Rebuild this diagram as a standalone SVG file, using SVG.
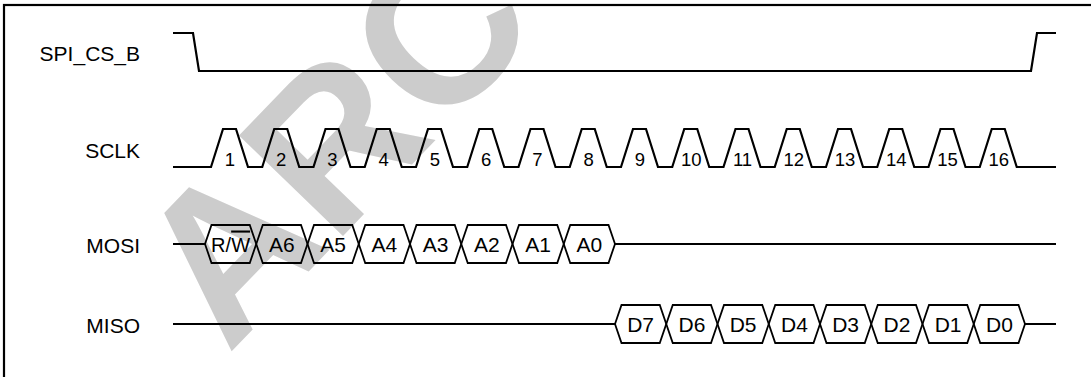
<svg xmlns="http://www.w3.org/2000/svg" width="1091" height="377" viewBox="0 0 1091 377">
<style>
.lbl{font-family:"Liberation Sans",Arial,sans-serif;font-size:21px;fill:#000;text-anchor:end}
.num{font-family:"Liberation Sans",Arial,sans-serif;font-size:18.5px;fill:#000;text-anchor:middle}
.hl{font-family:"Liberation Sans",Arial,sans-serif;font-size:21px;fill:#000;text-anchor:middle}
.wave{fill:none;stroke:#000;stroke-width:2.2;stroke-linejoin:miter}
.hex{fill:none;stroke:#000;stroke-width:1.8;stroke-linejoin:miter}
.wm{font-family:"Liberation Sans",Arial,sans-serif;font-size:210px;font-weight:bold;fill:#cccccc}
</style>
<rect x="0" y="0" width="1091" height="377" fill="#fff"/>
<text class="wm" x="228" y="355" transform="rotate(-46 228 355)">ARC</text>
<rect x="4" y="5" width="1100" height="400" fill="none" stroke="#000" stroke-width="2.2"/>

<g id="spi_cs_b">
<text class="lbl" x="140" y="61">SPI_CS_B</text>
<path class="wave" d="M173,33 H193 L199,71 H1031 L1037,33 H1056"/>
</g>

<g id="sclk">
<text class="lbl" x="140" y="157.5">SCLK</text>
<path class="wave" d="M173,167 H211 L223,129 H236 L248,167 H262.25 L274.25,129 H287.25 L299.25,167 H313.5 L325.5,129 H338.5 L350.5,167 H364.75 L376.75,129 H389.75 L401.75,167 H416 L428,129 H441 L453,167 H467.25 L479.25,129 H492.25 L504.25,167 H518.5 L530.5,129 H543.5 L555.5,167 H569.75 L581.75,129 H594.75 L606.75,167 H621 L633,129 H646 L658,167 H672.25 L684.25,129 H697.25 L709.25,167 H723.5 L735.5,129 H748.5 L760.5,167 H774.75 L786.75,129 H799.75 L811.75,167 H826 L838,129 H851 L863,167 H877.25 L889.25,129 H902.25 L914.25,167 H928.5 L940.5,129 H953.5 L965.5,167 H979.75 L991.75,129 H1004.75 L1016.75,167 H1056"/>
<text class="num" x="230" y="165.5">1</text>
<text class="num" x="281.25" y="165.5">2</text>
<text class="num" x="332.5" y="165.5">3</text>
<text class="num" x="383.75" y="165.5">4</text>
<text class="num" x="435" y="165.5">5</text>
<text class="num" x="486.25" y="165.5">6</text>
<text class="num" x="537.5" y="165.5">7</text>
<text class="num" x="588.75" y="165.5">8</text>
<text class="num" x="640" y="165.5">9</text>
<text class="num" x="691.25" y="165.5">10</text>
<text class="num" x="742.5" y="165.5">11</text>
<text class="num" x="793.75" y="165.5">12</text>
<text class="num" x="845" y="165.5">13</text>
<text class="num" x="896.25" y="165.5">14</text>
<text class="num" x="947.5" y="165.5">15</text>
<text class="num" x="998.75" y="165.5">16</text>
</g>

<g id="mosi">
<text class="lbl" x="140" y="253">MOSI</text>
<path class="hex" d="M173,244 H205 M615,244 H1056"/>
<polygon class="hex" points="205,244 211.5,225 249.75,225 256.25,244 249.75,263 211.5,263"/>
<polygon class="hex" points="256.25,244 262.75,225 301,225 307.5,244 301,263 262.75,263"/>
<polygon class="hex" points="307.5,244 314,225 352.25,225 358.75,244 352.25,263 314,263"/>
<polygon class="hex" points="358.75,244 365.25,225 403.5,225 410,244 403.5,263 365.25,263"/>
<polygon class="hex" points="410,244 416.5,225 454.75,225 461.25,244 454.75,263 416.5,263"/>
<polygon class="hex" points="461.25,244 467.75,225 506,225 512.5,244 506,263 467.75,263"/>
<polygon class="hex" points="512.5,244 519,225 557.25,225 563.75,244 557.25,263 519,263"/>
<polygon class="hex" points="563.75,244 570.25,225 608.5,225 615,244 608.5,263 570.25,263"/>
<text class="hl" x="230.6" y="251.5" textLength="39" lengthAdjust="spacingAndGlyphs">R/<tspan text-decoration="overline">W</tspan></text>
<text class="hl" x="281.9" y="251.5">A6</text>
<text class="hl" x="333.1" y="251.5">A5</text>
<text class="hl" x="384.4" y="251.5">A4</text>
<text class="hl" x="435.6" y="251.5">A3</text>
<text class="hl" x="486.9" y="251.5">A2</text>
<text class="hl" x="538.1" y="251.5">A1</text>
<text class="hl" x="589.4" y="251.5">A0</text>
</g>

<g id="miso">
<text class="lbl" x="140" y="332.5">MISO</text>
<path class="hex" d="M173,324 H615 M1025,324 H1056"/>
<polygon class="hex" points="615,324 621.5,305 659.75,305 666.25,324 659.75,343 621.5,343"/>
<polygon class="hex" points="666.25,324 672.75,305 711,305 717.5,324 711,343 672.75,343"/>
<polygon class="hex" points="717.5,324 724,305 762.25,305 768.75,324 762.25,343 724,343"/>
<polygon class="hex" points="768.75,324 775.25,305 813.5,305 820,324 813.5,343 775.25,343"/>
<polygon class="hex" points="820,324 826.5,305 864.75,305 871.25,324 864.75,343 826.5,343"/>
<polygon class="hex" points="871.25,324 877.75,305 916,305 922.5,324 916,343 877.75,343"/>
<polygon class="hex" points="922.5,324 929,305 967.25,305 973.75,324 967.25,343 929,343"/>
<polygon class="hex" points="973.75,324 980.25,305 1018.5,305 1025,324 1018.5,343 980.25,343"/>
<text class="hl" x="640.6" y="331.5">D7</text>
<text class="hl" x="691.9" y="331.5">D6</text>
<text class="hl" x="743.1" y="331.5">D5</text>
<text class="hl" x="794.4" y="331.5">D4</text>
<text class="hl" x="845.6" y="331.5">D3</text>
<text class="hl" x="896.9" y="331.5">D2</text>
<text class="hl" x="948.1" y="331.5">D1</text>
<text class="hl" x="999.4" y="331.5">D0</text>
</g>
</svg>
